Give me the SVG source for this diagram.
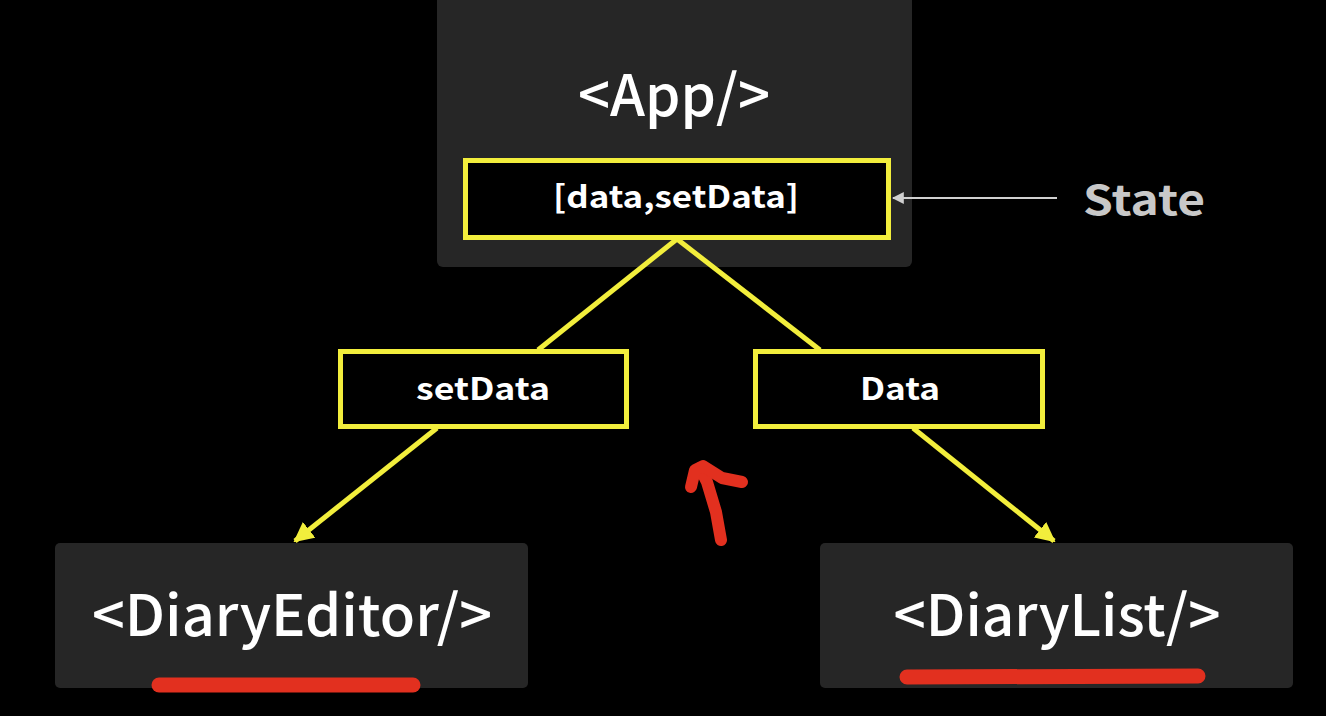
<svg xmlns="http://www.w3.org/2000/svg" width="1326" height="716" viewBox="0 0 1326 716">
<defs>
<style>
.comp{fill:#262626}
.prop{fill:#000;stroke:#f2ee3c;stroke-width:5}
.big{font-family:"Noto Sans CJK KR","Noto Sans",sans-serif;font-size:57px;fill:#fff;text-anchor:middle;font-weight:500}
.mid{font-family:"Noto Sans CJK KR","Noto Sans",sans-serif;font-size:31px;fill:#fff;text-anchor:middle;font-weight:700}
.edge{stroke:#f2ee3c;stroke-width:5;fill:none}
.red{stroke:#e2301f;fill:none;stroke-linecap:round;stroke-linejoin:round}
</style>
<marker id="ya" viewBox="0 0 10 10" refX="9" refY="5" markerWidth="4" markerHeight="4" orient="auto" markerUnits="strokeWidth">
<path d="M0 0 L10 5 L0 10 Z" fill="#f2ee3c"/>
</marker>
<marker id="ga" viewBox="0 0 10 10" refX="9" refY="5" markerWidth="6" markerHeight="6" orient="auto" markerUnits="strokeWidth">
<path d="M0 0 L10 5 L0 10 Z" fill="#d0d0d0"/>
</marker>
</defs>
<rect width="1326" height="716" fill="#000"/>
<g id="app">
<rect class="comp" x="437" y="-6" width="475" height="273" rx="6"/>
<text class="big" x="674" y="116" textLength="192" lengthAdjust="spacingAndGlyphs">&lt;App/&gt;</text>
</g>
<g id="state-box">
<rect class="prop" x="465.5" y="160.5" width="423" height="77"/>
<text class="mid" x="676" y="208" textLength="246" lengthAdjust="spacingAndGlyphs">[data,setData]</text>
</g>
<g id="state-label">
<text x="1144" y="215" font-family="'Noto Sans CJK KR','Noto Sans',sans-serif" font-size="41" font-weight="700" fill="#c8c8c8" text-anchor="middle" textLength="122" lengthAdjust="spacingAndGlyphs">State</text>
</g>
<g id="setdata">
<rect class="prop" x="340.5" y="351.5" width="286" height="75"/>
<text class="mid" x="483" y="400" textLength="134" lengthAdjust="spacingAndGlyphs">setData</text>
</g>
<g id="data">
<rect class="prop" x="755.5" y="351.5" width="287" height="75"/>
<text class="mid" x="900" y="400" textLength="80" lengthAdjust="spacingAndGlyphs">Data</text>
</g>
<g id="diary-editor">
<rect class="comp" x="55" y="543" width="473" height="145" rx="5"/>
<text class="big" x="292" y="636" textLength="400" lengthAdjust="spacingAndGlyphs">&lt;DiaryEditor/&gt;</text>
</g>
<g id="diary-list">
<rect class="comp" x="820" y="543" width="473" height="145" rx="5"/>
<text class="big" x="1057" y="636" textLength="327" lengthAdjust="spacingAndGlyphs">&lt;DiaryList/&gt;</text>
</g>
<g id="connectors">
<line class="edge" x1="677" y1="239" x2="538" y2="350"/>
<line class="edge" x1="677" y1="239" x2="820" y2="350"/>
<line class="edge" x1="437" y1="428" x2="295" y2="541" marker-end="url(#ya)"/>
<line class="edge" x1="913" y1="428" x2="1054" y2="541" marker-end="url(#ya)"/>
<line x1="1057" y1="198" x2="893" y2="198" stroke="#d0d0d0" stroke-width="2" marker-end="url(#ga)"/>
</g>
<g id="annotations">
<line class="red" x1="159" y1="685" x2="413" y2="685" stroke-width="15"/>
<line class="red" x1="907" y1="677" x2="1198" y2="676" stroke-width="15"/>
<path class="red" stroke-width="12" d="M721 540 L716 512 L707 482 L700 468"/>
<path class="red" stroke-width="12" d="M691 487 L695 470 L703 466 L722 478 L742 482"/>
</g>
</svg>
